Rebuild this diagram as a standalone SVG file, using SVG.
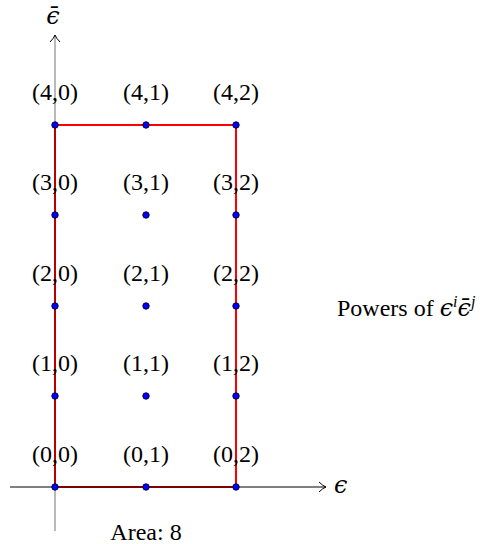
<svg xmlns="http://www.w3.org/2000/svg" width="484" height="544" viewBox="0 0 484 544">
<style>
text{font-family:"Liberation Serif","DejaVu Serif",serif;font-size:24px;fill:#000}
.lbl{text-anchor:middle}
.eps{font-family:"DejaVu Serif","Liberation Serif",serif;font-style:italic}
.dot{fill:#0000ff;stroke:#00003a;stroke-width:1}
.ax{stroke:#000;stroke-width:1;fill:none}
</style>
<defs>
<marker id="arr" markerWidth="10" markerHeight="12" refX="8" refY="6" orient="auto" markerUnits="userSpaceOnUse">
<path d="M1,1 Q5,5 8,6 Q5,7 1,11" fill="none" stroke="#000" stroke-width="1"/>
</marker>
</defs>
<g id="connectors">
<rect x="55" y="125" width="181" height="362" fill="none" stroke="#ff0000" stroke-width="2"/>
<line class="ax" x1="10" y1="487" x2="326" y2="487" marker-end="url(#arr)"/>
<line class="ax" x1="55" y1="531" x2="55" y2="35" stroke-opacity="0.55" marker-end="url(#arr)"/>
</g>
<text class="eps" x="334" y="493">ϵ</text>
<text class="eps lbl" x="53" y="24">ϵ̄</text>
<g id="n40"><circle class="dot" cx="55" cy="125" r="3.2"/><text class="lbl" x="55" y="100">(4,0)</text></g>
<g id="n41"><circle class="dot" cx="146" cy="125" r="3.2"/><text class="lbl" x="146" y="100">(4,1)</text></g>
<g id="n42"><circle class="dot" cx="236" cy="125" r="3.2"/><text class="lbl" x="236" y="100">(4,2)</text></g>
<g id="n30"><circle class="dot" cx="55" cy="215" r="3.2"/><text class="lbl" x="55" y="190">(3,0)</text></g>
<g id="n31"><circle class="dot" cx="146" cy="215" r="3.2"/><text class="lbl" x="146" y="190">(3,1)</text></g>
<g id="n32"><circle class="dot" cx="236" cy="215" r="3.2"/><text class="lbl" x="236" y="190">(3,2)</text></g>
<g id="n20"><circle class="dot" cx="55" cy="306" r="3.2"/><text class="lbl" x="55" y="281">(2,0)</text></g>
<g id="n21"><circle class="dot" cx="146" cy="306" r="3.2"/><text class="lbl" x="146" y="281">(2,1)</text></g>
<g id="n22"><circle class="dot" cx="236" cy="306" r="3.2"/><text class="lbl" x="236" y="281">(2,2)</text></g>
<g id="n10"><circle class="dot" cx="55" cy="396" r="3.2"/><text class="lbl" x="55" y="371">(1,0)</text></g>
<g id="n11"><circle class="dot" cx="146" cy="396" r="3.2"/><text class="lbl" x="146" y="371">(1,1)</text></g>
<g id="n12"><circle class="dot" cx="236" cy="396" r="3.2"/><text class="lbl" x="236" y="371">(1,2)</text></g>
<g id="n00"><circle class="dot" cx="55" cy="487" r="3.2"/><text class="lbl" x="55" y="462">(0,0)</text></g>
<g id="n01"><circle class="dot" cx="146" cy="487" r="3.2"/><text class="lbl" x="146" y="462">(0,1)</text></g>
<g id="n02"><circle class="dot" cx="236" cy="487" r="3.2"/><text class="lbl" x="236" y="462">(0,2)</text></g>
<text x="337" y="316">Powers of <tspan class="eps">ϵ</tspan><tspan dy="-9" font-size="16" font-style="italic">i</tspan><tspan dy="9" class="eps">ϵ̄</tspan><tspan dy="-9" font-size="16" font-style="italic">j</tspan></text>
<text class="lbl" x="146" y="540">Area: 8</text>
</svg>
